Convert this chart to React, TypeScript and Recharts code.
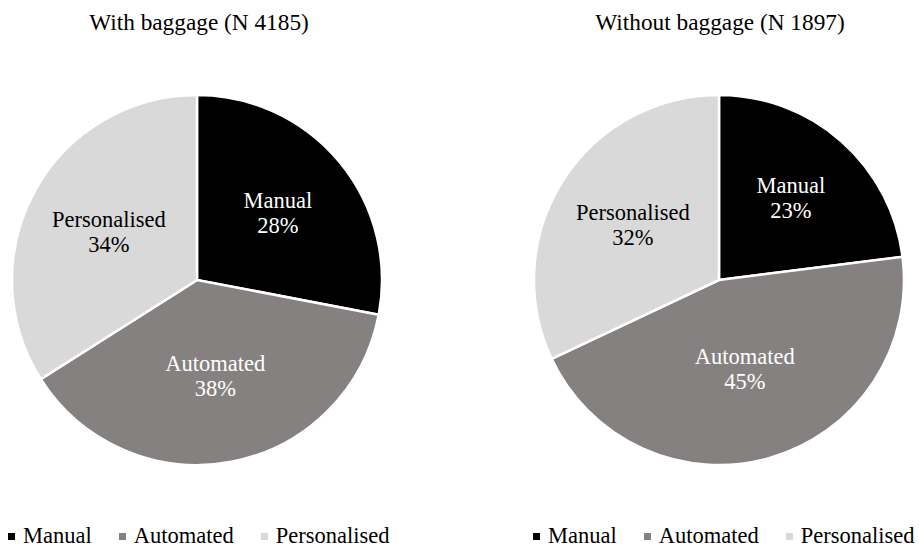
import { Cell, Legend, Pie, PieChart } from "recharts";

const CATEGORIES = ["Manual", "Automated", "Personalised"];
const WITH_BAGGAGE = [28, 38, 34];
const WITHOUT_BAGGAGE = [23, 45, 32];
const TITLES = ["With baggage (N 4185)", "Without baggage (N 1897)"];

const COLORS = ["#000000", "#868181", "#d9d9d9"];
const LABEL_COLORS = ["#ffffff", "#ffffff", "#000000"];
const FONT = '"Liberation Serif", "Times New Roman", serif';
const RAD = Math.PI / 180;

function toRows(values: number[]) {
  return CATEGORIES.map((name, i) => ({ name, value: values[i] }));
}

// bigger slices get their label pulled a bit toward the centre, like Excel's best fit
function renderLabel(props: any) {
  const { cx, cy, midAngle, outerRadius, percent, index, name, value } = props;
  const r = outerRadius * (0.68 - 0.4 * percent);
  const x = cx + r * Math.cos(-midAngle * RAD);
  const y = cy + r * Math.sin(-midAngle * RAD);
  return (
    <text
      x={x}
      y={y}
      textAnchor="middle"
      fill={LABEL_COLORS[index]}
      fontFamily={FONT}
      fontSize={22.5}
    >
      <tspan x={x} y={y - 5}>{name}</tspan>
      <tspan x={x} y={y + 20}>{`${value}%`}</tspan>
    </text>
  );
}

function renderLegend() {
  return (
    <div
      style={{
        display: "flex",
        alignItems: "center",
        fontFamily: FONT,
        fontSize: 22.5,
        lineHeight: "20px",
        color: "#000",
        whiteSpace: "nowrap",
      }}
    >
      {CATEGORIES.map((name, i) => (
        <span
          key={name}
          style={{ display: "flex", alignItems: "center", marginRight: i < 2 ? 27 : 0 }}
        >
          <span
            style={{
              display: "inline-block",
              width: 7,
              height: 7,
              background: COLORS[i],
              marginRight: 8,
            }}
          />
          {name}
        </span>
      ))}
    </div>
  );
}

type PieBlockProps = {
  title: string;
  values: number[];
  left: number;
  width: number;
  cx: number;
  titleCenter: number;
  legendLeft: number;
};

function PieBlock({ title, values, left, width, cx, titleCenter, legendLeft }: PieBlockProps) {
  return (
    <div style={{ position: "absolute", left, top: 0, width, height: 547 }}>
      <div
        style={{
          position: "absolute",
          top: 11,
          left: titleCenter - 200,
          width: 400,
          textAlign: "center",
          fontFamily: FONT,
          fontSize: 23.3,
          lineHeight: "23px",
          color: "#000",
        }}
      >
        {title}
      </div>
      <PieChart width={width} height={547} margin={{ top: 0, right: 0, bottom: 0, left: 0 }}>
        <Pie
          data={toRows(values)}
          dataKey="value"
          nameKey="name"
          cx={cx}
          cy={280}
          outerRadius={185}
          startAngle={90}
          endAngle={-270}
          stroke="#ffffff"
          strokeWidth={2.5}
          label={renderLabel}
          labelLine={false}
          isAnimationActive={false}
        >
          {values.map((_, i) => (
            <Cell key={CATEGORIES[i]} fill={COLORS[i]} />
          ))}
        </Pie>
        <Legend
          content={renderLegend}
          wrapperStyle={{ left: legendLeft, top: 526, bottom: "auto", width: "auto" }}
        />
      </PieChart>
    </div>
  );
}

export default function App() {
  return (
    <div
      style={{
        position: "absolute",
        left: 0,
        top: 0,
        width: 919,
        height: 547,
        overflow: "hidden",
        background: "#fff",
      }}
    >
      <PieBlock
        title={TITLES[0]}
        values={WITH_BAGGAGE}
        left={0}
        width={460}
        cx={197}
        titleCenter={199}
        legendLeft={8}
      />
      <PieBlock
        title={TITLES[1]}
        values={WITHOUT_BAGGAGE}
        left={460}
        width={459}
        cx={259}
        titleCenter={260}
        legendLeft={73}
      />
    </div>
  );
}
